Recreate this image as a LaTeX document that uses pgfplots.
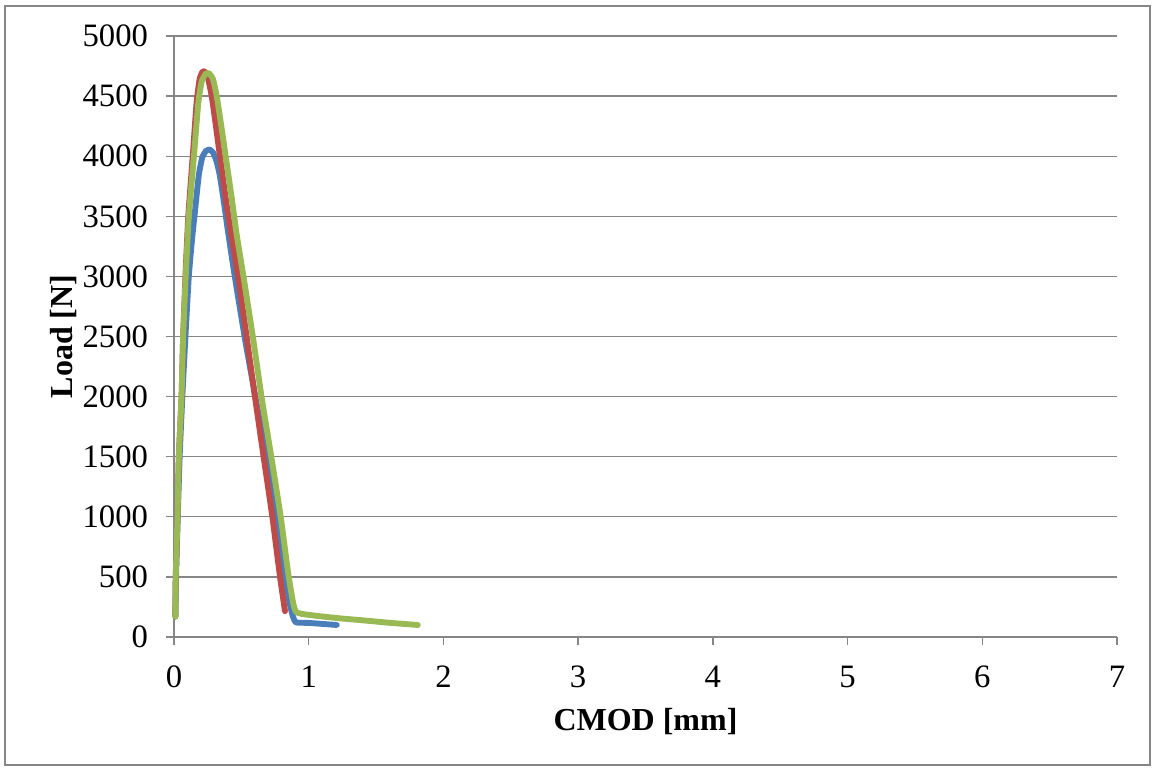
\documentclass[border=0pt]{standalone}
\usepackage{pgfplots}
\pgfplotsset{compat=1.18}
\usepackage{fontspec}
\setmainfont{Liberation Serif}
\definecolor{sblue}{HTML}{4A7EBB}
\definecolor{sred}{HTML}{BE4B48}
\definecolor{sgreen}{HTML}{98B954}
\definecolor{axgray}{HTML}{868686}
\begin{document}
\begin{tikzpicture}
\path[use as bounding box] (-130.5pt,-99.75pt) rectangle (735pt,477.75pt);
\draw[axgray, line width=0.9pt] (-126.75pt,-96pt) rectangle (732pt,473.25pt);
\begin{axis}[
  at={(0,0)}, anchor=south west,
  scale only axis, width=707.25pt, height=450.75pt,
  xmin=0, xmax=7, ymin=0, ymax=5000,
  xtick={0,1,...,7}, ytick={0,500,...,5000},
  axis lines*=left,
  axis line style={axgray, line width=1pt},
  ymajorgrids, grid style={axgray, line width=1pt},
  tick style={axgray, line width=1pt},
  tick align=outside, major tick length=6pt,
  /pgf/number format/assume math mode=true,
  /pgf/number format/set thousands separator={},
  ticklabel style={font=\fontsize{24.5}{28}\selectfont, text=black},
  yticklabel style={xshift=-10pt},
  xticklabel style={yshift=-12pt},
  xlabel={\textbf{CMOD [mm]}}, ylabel={\textbf{Load [N]}},
  label style={font=\fontsize{24}{28}\selectfont},
  xlabel style={yshift=-8.5pt},
  ylabel style={yshift=-2.5pt},
  every axis plot/.append style={line width=4.4pt, line join=round, line cap=round, smooth, tension=0.3},
  clip=false,
]
\addplot[sblue] coordinates {(0.01,170)(0.015,500)(0.028,1000)(0.042,1500)(0.062,2000)(0.085,2500)(0.11,3000)(0.135,3320)(0.161,3600)(0.185,3850)(0.21,3990)(0.238,4045)(0.265,4055)(0.29,4030)(0.315,3960)(0.34,3840)(0.37,3620)(0.40,3380)(0.44,3080)(0.48,2800)(0.53,2460)(0.61,1960)(0.688,1480)(0.762,1000)(0.819,560)(0.855,300)(0.88,180)(0.905,122)(1.0,117)(1.208,100)};
\addplot[sred] coordinates {(0.01,170)(0.013,500)(0.026,1000)(0.036,1500)(0.056,2000)(0.068,2500)(0.085,3000)(0.106,3500)(0.139,4000)(0.168,4450)(0.19,4640)(0.21,4700)(0.228,4705)(0.25,4660)(0.28,4500)(0.31,4260)(0.341,4000)(0.375,3720)(0.41,3450)(0.475,3000)(0.534,2540)(0.597,2030)(0.665,1500)(0.73,1000)(0.787,500)(0.824,215)};
\addplot[sgreen] coordinates {(0.01,170)(0.013,500)(0.026,1000)(0.036,1500)(0.056,2000)(0.068,2500)(0.087,3000)(0.11,3500)(0.148,4000)(0.18,4440)(0.205,4620)(0.235,4685)(0.26,4690)(0.29,4640)(0.317,4500)(0.35,4260)(0.39,3950)(0.43,3640)(0.465,3350)(0.527,2920)(0.589,2470)(0.651,1990)(0.725,1480)(0.792,1000)(0.849,520)(0.885,280)(0.905,210)(0.95,192)(1.05,177)(1.232,155)(1.38,141)(1.6,118)(1.81,100)};
\end{axis}
\end{tikzpicture}
\end{document}
